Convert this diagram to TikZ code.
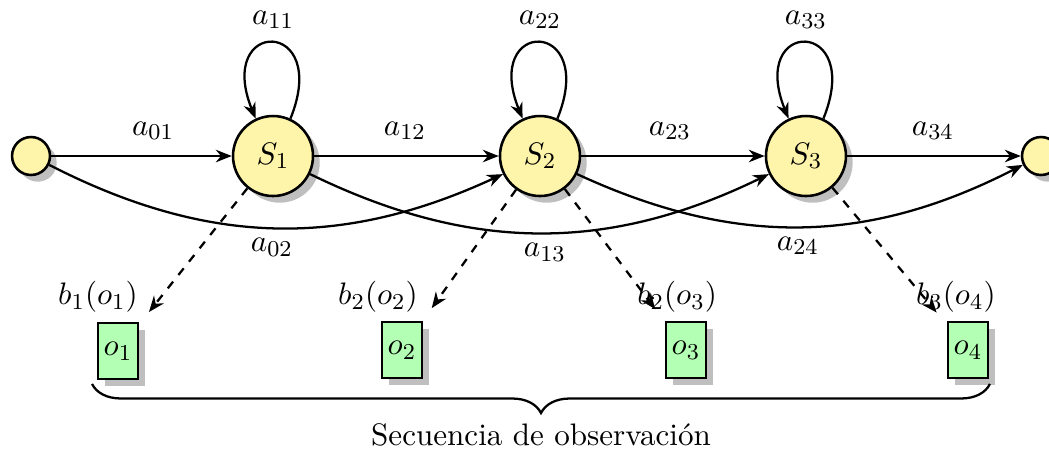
\documentclass[11pt,tikz,border=0pt]{standalone}
\usetikzlibrary{arrows.meta,shadows,decorations.pathreplacing}
\definecolor{stfill}{RGB}{255,245,170}
\definecolor{obsfill}{RGB}{179,255,179}
\begin{document}
\begin{tikzpicture}[
  state/.style={circle,draw,line width=0.9pt,fill=stfill,minimum size=0.99cm,inner sep=0pt,drop shadow},
  term/.style={circle,draw,line width=0.9pt,fill=stfill,minimum size=0.47cm,inner sep=0pt,drop shadow},
  obs/.style={rectangle,draw,line width=0.9pt,fill=obsfill,minimum width=0.495cm,minimum height=0.69cm,inner sep=1pt,drop shadow},
  trans/.style={-{Stealth[length=5.6pt,width=4.4pt]},thick},
  emit/.style={-{Stealth[length=5.6pt,width=4.4pt]},thick,dashed,shorten >=5.5pt},
  lbl/.style={inner sep=1pt}
]
\useasboundingbox (0,0) rectangle (12.983,5.594);

% states
\node[term]  (s0) at (0.384,3.663) {};
\node[state] (s1) at (3.379,3.663) {$S_1$};
\node[state] (s2) at (6.683,3.663) {$S_2$};
\node[state] (s3) at (9.975,3.663) {$S_3$};
\node[term]  (s4) at (12.884,3.663) {};

% observations
\node[obs] (o1) at (1.460,1.250) {$o_1$};
\node[obs] (o2) at (4.975,1.262) {$o_2$};
\node[obs] (o3) at (8.490,1.262) {$o_3$};
\node[obs] (o4) at (11.980,1.262) {$o_4$};

% straight transitions
\draw[trans] (s0) -- (s1);
\draw[trans] (s1) -- (s2);
\draw[trans] (s2) -- (s3);
\draw[trans] (s3) -- (s4);

% skip transitions
\draw[trans] (s0) to[bend right=26] (s2);
\draw[trans] (s1) to[bend right=26] (s3);
\draw[trans] (s2) to[bend right=26] (s4);

% self loops
\draw[trans] (s1.65) .. controls +(68:1.35) and +(112:1.35) .. (s1.115);
\draw[trans] (s2.65) .. controls +(68:1.35) and +(112:1.35) .. (s2.115);
\draw[trans] (s3.65) .. controls +(68:1.35) and +(112:1.35) .. (s3.115);

% emissions
\draw[emit] (s1) -- (o1);
\draw[emit] (s2) -- (o2);
\draw[emit] (s2) -- (o3);
\draw[emit] (s3) -- (o4);

% labels
\node[lbl] (la01) at (1.894,3.973) {$a_{01}$};
\node[lbl] (la12) at (5.012,3.973) {$a_{12}$};
\node[lbl] (la23) at (8.292,3.973) {$a_{23}$};
\node[lbl] (la34) at (11.547,3.973) {$a_{34}$};
\node[lbl] (la11) at (3.379,5.347) {$a_{11}$};
\node[lbl] (la22) at (6.683,5.347) {$a_{22}$};
\node[lbl] (la33) at (9.975,5.347) {$a_{33}$};
\node[lbl] (la02) at (3.366,2.537) {$a_{02}$};
\node[lbl] (la13) at (6.745,2.475) {$a_{13}$};
\node[lbl] (la24) at (9.876,2.550) {$a_{24}$};
\node[lbl] (lb1) at (1.213,1.918) {$b_1(o_1)$};
\node[lbl] (lb2) at (4.678,1.918) {$b_2(o_2)$};
\node[lbl] (lb3) at (8.380,1.918) {$b_2(o_3)$};
\node[lbl] (lb4) at (11.830,1.918) {$b_3(o_4)$};

% brace
\coordinate (bl) at (1.139,0.842);
\coordinate (br) at (12.252,0.842);
\draw[thick,decorate,decoration={brace,mirror,amplitude=0.36cm}] (bl) -- (br);
\node[lbl] (seq) at (6.696,0.210) {Secuencia de observación};
\end{tikzpicture}
\end{document}
